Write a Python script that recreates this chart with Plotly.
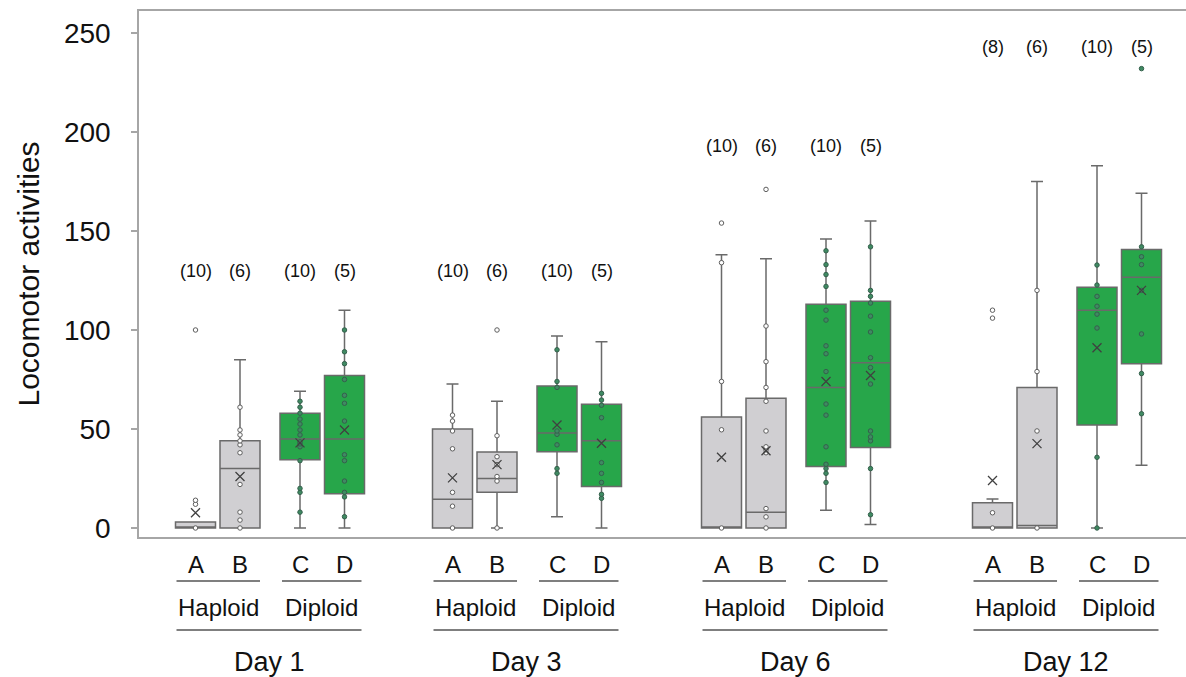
import plotly.graph_objects as go

# ---------------- data ----------------
DAYS = ["Day 1", "Day 3", "Day 6", "Day 12"]
GROUPS = ["A", "B", "C", "D"]
PLOIDY = ["Haploid", "Diploid"]
N_COUNTS = [[10, 6, 10, 5], [10, 6, 10, 5], [10, 6, 10, 5], [8, 6, 10, 5]]

Q1 = [[0, 0, 34.5, 17.3], [0, 18, 38.5, 21], [0, 0, 31, 40.6], [0, 0, 52, 83]]
MEDIAN = [[0, 30, 45, 45], [14.5, 25, 48, 44], [0, 8, 71, 83.5], [0, 1.2, 110, 126.6]]
Q3 = [[3, 44, 58, 77], [50, 38.4, 71.7, 62.5], [56, 65.5, 113, 114.5], [12.8, 71, 121.6, 140.6]]
LOWER = [[0, 0, 0, 0], [0, 0, 5.7, 0], [0, 0, 9, 1.7], [0, 0, 0, 31.7]]
UPPER = [[3, 85, 69, 110], [72.7, 64, 97, 94], [138, 136, 146, 155], [14.6, 175, 183, 169]]
MEAN = [[7.7, 26, 43, 49.5], [25.3, 32, 52, 42.8], [35.7, 39, 74, 77], [24, 42.6, 91, 120]]

POINTS_DAY1 = [
    [0, 12, 14, 100],
    [0, 4, 8, 22, 38, 42, 44, 47, 49.5, 61],
    [8, 18, 20, 34, 41, 42.5, 43.5, 47, 49.5, 52.5, 55, 58, 61, 64],
    [5.7, 15.7, 18, 23.7, 34, 37, 54, 63, 67, 75, 83, 89, 100],
]
POINTS_DAY3 = [
    [0, 11, 18, 40, 49, 54, 57],
    [0, 23.7, 26, 32, 36, 46.6, 100],
    [27.6, 30, 42, 47.3, 49, 71, 74, 90],
    [15, 17, 23, 27.6, 33, 55.7, 62, 64.6, 68],
]
POINTS_DAY6 = [
    [0, 49.6, 74, 134, 154],
    [0, 5.6, 9.8, 38, 39.5, 41, 49, 64, 71, 84, 102, 171],
    [23, 27.6, 30, 32.2, 41, 57, 62.6, 79, 88, 92, 105, 110, 122, 128, 133, 140],
    [6.7, 30, 44, 46, 49, 72.7, 81, 86, 99, 107, 113.6, 117, 120, 142],
]
POINTS_DAY12 = [
    [0, 7.7, 106, 110],
    [0, 49, 79, 120],
    [0, 35.7, 101, 108, 112, 117, 122.7, 132.8],
    [57.7, 78, 98, 120, 133, 137, 142, 232],
]
POINTS = [POINTS_DAY1, POINTS_DAY3, POINTS_DAY6, POINTS_DAY12]

Y_TICKS = [0, 50, 100, 150, 200, 250]

# ---------------- layout constants ----------------
W, H = 1186, 677
ML, MR, MT, MB = 139, 0, 11, 140
PLOT_H = H - MT - MB
DAY_CENTER = [270, 527, 796, 1067]
GROUP_OFFSET = [-74.5, -30, 30, 74.5]
BOX_W = 40
COUNT_Y = [130, 130, 193, 243]
FONT = "Liberation Sans, Arial, sans-serif"

GREY_FILL = "#d0cfd2"
GREEN_FILL = "#27a64a"
EDGE = "#6a6a6a"
AXIS = "#a6a6a6"


def paper_y(py):
    return (H - MB - py) / PLOT_H


fig = go.Figure()

# boxes
for gi, g in enumerate(GROUPS):
    diploid = gi >= 2
    xs = [DAY_CENTER[d] + GROUP_OFFSET[gi] for d in range(len(DAYS))]
    fig.add_trace(go.Box(
        x=xs,
        q1=[Q1[d][gi] for d in range(len(DAYS))],
        median=[MEDIAN[d][gi] for d in range(len(DAYS))],
        q3=[Q3[d][gi] for d in range(len(DAYS))],
        lowerfence=[LOWER[d][gi] for d in range(len(DAYS))],
        upperfence=[UPPER[d][gi] for d in range(len(DAYS))],
        width=BOX_W,
        whiskerwidth=0.3,
        fillcolor=GREEN_FILL if diploid else GREY_FILL,
        line=dict(color=EDGE, width=1.5),
        boxpoints=False,
        name=g,
        showlegend=False,
    ))

# individual points
for d in range(len(DAYS)):
    for gi, g in enumerate(GROUPS):
        diploid = gi >= 2
        vals = POINTS[d][gi]
        x0 = DAY_CENTER[d] + GROUP_OFFSET[gi]
        fig.add_trace(go.Scatter(
            x=[x0] * len(vals), y=vals, mode="markers",
            marker=dict(size=4.5,
                        color="#3f8a62" if diploid else "white",
                        line=dict(color="#35604c" if diploid else "#5e5e5e", width=1)),
            showlegend=False, hoverinfo="y",
        ))

# means
for gi, g in enumerate(GROUPS):
    xs = [DAY_CENTER[d] + GROUP_OFFSET[gi] for d in range(len(DAYS))]
    fig.add_trace(go.Scatter(
        x=xs, y=[MEAN[d][gi] for d in range(len(DAYS))], mode="markers",
        marker=dict(symbol="x-thin", size=9, color="#404040",
                    line=dict(color="#404040", width=1.3)),
        showlegend=False, hoverinfo="y",
    ))

annotations = []
shapes = []
for d, day in enumerate(DAYS):
    xs = [DAY_CENTER[d] + o for o in GROUP_OFFSET]
    for gi in range(4):
        annotations.append(dict(x=xs[gi], y=COUNT_Y[d], xref="x", yref="y",
                                yanchor="middle",
                                text=f"({N_COUNTS[d][gi]})", showarrow=False,
                                font=dict(size=18, color="#111111", family=FONT)))
        annotations.append(dict(x=xs[gi], y=paper_y(564), xref="x", yref="paper",
                                yanchor="middle",
                                text=GROUPS[gi], showarrow=False,
                                font=dict(size=24, color="#111111", family=FONT)))
    hap = (xs[0] - 19, xs[1] + 20)
    dip = (xs[2] - 18, xs[3] + 17)
    for (a, b), lab in zip([hap, dip], PLOIDY):
        shapes.append(dict(type="line", xref="x", yref="paper", x0=a, x1=b,
                           y0=paper_y(581), y1=paper_y(581),
                           line=dict(color="#555555", width=1.3)))
        annotations.append(dict(x=(a + b) / 2, y=paper_y(607), xref="x", yref="paper",
                                yanchor="middle",
                                text=lab, showarrow=False,
                                font=dict(size=24, color="#111111", family=FONT)))
    shapes.append(dict(type="line", xref="x", yref="paper", x0=hap[0], x1=dip[1],
                       y0=paper_y(630), y1=paper_y(630),
                       line=dict(color="#555555", width=1.3)))
    annotations.append(dict(x=(hap[0] + dip[1]) / 2, y=paper_y(662), xref="x", yref="paper",
                            yanchor="middle",
                            text=day, showarrow=False,
                            font=dict(size=27, color="#111111", family=FONT)))

fig.update_layout(
    width=W, height=H,
    margin=dict(l=ML, r=MR, t=MT, b=MB),
    paper_bgcolor="white", plot_bgcolor="white",
    font=dict(family=FONT, color="#111111"),
    annotations=annotations, shapes=shapes,
    showlegend=False,
)
fig.update_xaxes(range=[ML, W - MR], showticklabels=False, showgrid=False, zeroline=False,
                 showline=True, mirror=True, linecolor=AXIS, linewidth=1.5, ticks="")
fig.update_yaxes(range=[-4.55, 261.1], tickvals=Y_TICKS, showgrid=False, zeroline=False,
                 showline=True, mirror=False, linecolor=AXIS, linewidth=1.5,
                 ticks="outside", ticklen=6, tickcolor=AXIS, tickwidth=1.5,
                 ticklabelstandoff=15,
                 tickfont=dict(size=28, color="#111111", family=FONT),
                 title=dict(text="Locomotor activities", standoff=15,
                            font=dict(size=30, color="#111111", family=FONT)))

fig.write_html("out.html", config={"displayModeBar": False},
               post_script="document.body.style.margin='0';")
